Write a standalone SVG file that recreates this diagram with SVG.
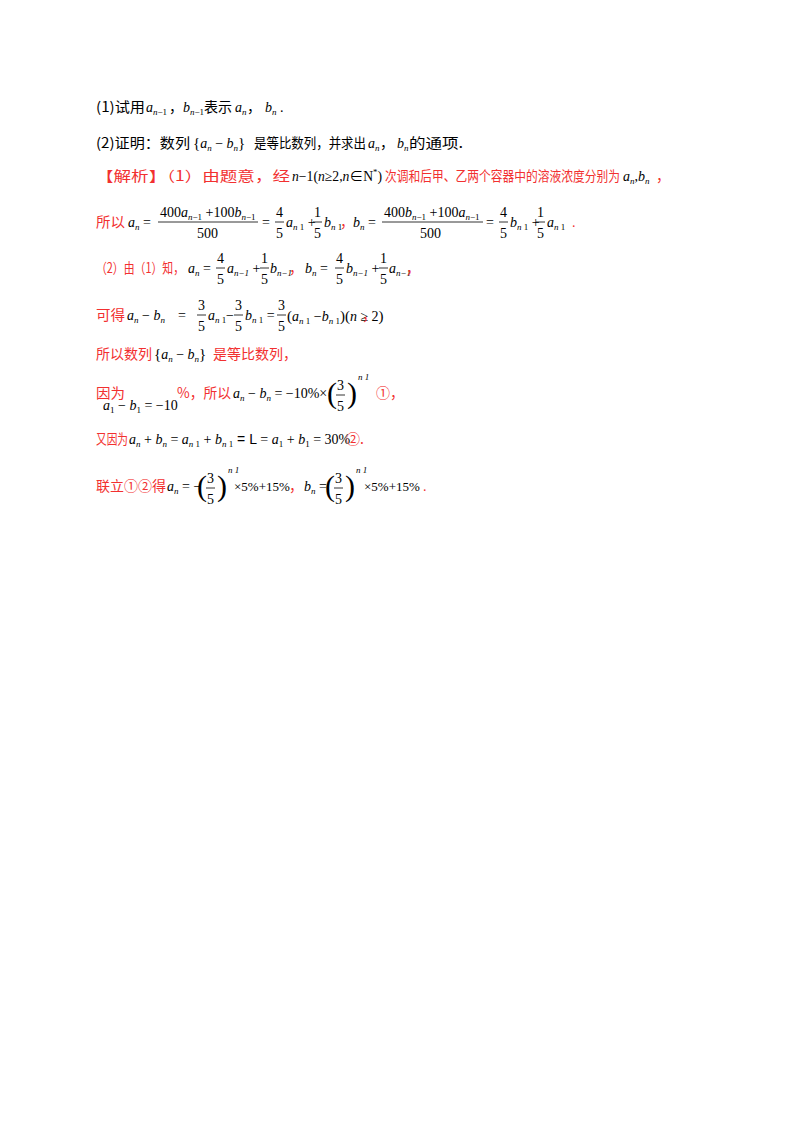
<svg xmlns="http://www.w3.org/2000/svg" width="800" height="1132" viewBox="0 0 800 1132">
<style>
text{font-family:"Liberation Serif","Noto Sans CJK SC",serif;font-size:14px;fill:#000}
.c{font-family:"Noto Sans CJK SC",sans-serif;font-size:14px}
.r{fill:#f23030}
.m{font-style:italic}
.s{font-size:9px;font-style:normal}
.si{font-size:9px;font-style:italic}
.f{font-size:15px;font-style:normal}
.p{font-size:30px;font-style:normal;font-weight:lighter}
line{stroke:#000;stroke-width:0.8}
</style>
<rect width="800" height="1132" fill="#fff"/>
<g id="q1">
<text x="96" y="112" class="c" textLength="49" lengthAdjust="spacingAndGlyphs">(1)试用</text>
<text x="146" y="112"><tspan class="m">a</tspan><tspan class="si" dy="3">n</tspan><tspan class="s">−1</tspan></text>
<text x="169" y="112" class="c">，</text>
<text x="183" y="112"><tspan class="m">b</tspan><tspan class="si" dy="3">n</tspan><tspan class="s">−1</tspan></text>
<text x="204" y="112" class="c" textLength="28" lengthAdjust="spacingAndGlyphs">表示</text>
<text x="235" y="112"><tspan class="m">a</tspan><tspan class="si" dy="3">n</tspan></text>
<text x="247" y="112" class="c">，</text>
<text x="265" y="112"><tspan class="m">b</tspan><tspan class="si" dy="3">n</tspan><tspan dy="-3"> .</tspan></text>
</g>
<g id="q2">
<text x="96" y="148" class="c" textLength="94" lengthAdjust="spacingAndGlyphs">(2)证明：数列</text>
<text x="193" y="148"><tspan class="f">{</tspan><tspan class="m">a</tspan><tspan class="si" dy="3">n</tspan><tspan dy="-3"> − </tspan><tspan class="m">b</tspan><tspan class="si" dy="3">n</tspan><tspan dy="-3" class="f">}</tspan></text>
<text x="254" y="148" class="c" textLength="112" lengthAdjust="spacingAndGlyphs">是等比数列，并求出</text>
<text x="368" y="148"><tspan class="m">a</tspan><tspan class="si" dy="3">n</tspan></text>
<text x="380" y="148" class="c">，</text>
<text x="397" y="148"><tspan class="m">b</tspan><tspan class="si" dy="3">n</tspan></text>
<text x="409" y="148" class="c" textLength="54" lengthAdjust="spacingAndGlyphs">的通项.</text>
</g>
<g id="a1">
<text x="96" y="181" class="c r" textLength="194" lengthAdjust="spacingAndGlyphs">【解析】（1）由题意，经</text>
<text x="292" y="181" textLength="90" lengthAdjust="spacingAndGlyphs"><tspan class="m">n</tspan>−1(<tspan class="m">n</tspan>≥2,<tspan class="m">n</tspan>∈N<tspan class="s" dy="-6">*</tspan><tspan dy="6">)</tspan></text>
<text x="385" y="181" class="c r" textLength="235" lengthAdjust="spacingAndGlyphs">次调和后甲、乙两个容器中的溶液浓度分别为</text>
<text x="623" y="181"><tspan class="m">a</tspan><tspan class="si" dy="3">n</tspan><tspan dy="-3">,</tspan><tspan class="m">b</tspan><tspan class="si" dy="3">n</tspan></text>
<text x="656" y="181" class="c r">，</text>
</g>
<g id="a2">
<text x="96" y="227" class="c r" textLength="29" lengthAdjust="spacingAndGlyphs">所以</text>
<text x="128" y="227"><tspan class="m">a</tspan><tspan class="si" dy="3">n</tspan><tspan dy="-3"> =</tspan></text>
<text x="160" y="217">400<tspan class="m">a</tspan><tspan class="si" dy="3">n</tspan><tspan class="s">−1</tspan><tspan dy="-3"> +100</tspan><tspan class="m">b</tspan><tspan class="si" dy="3">n</tspan><tspan class="s">−1</tspan></text>
<line x1="158" y1="222" x2="258" y2="222"/>
<text x="197" y="238">500</text>
<text x="262" y="227">=</text>
<text x="276" y="217">4</text><line x1="275" y1="222" x2="284" y2="222"/><text x="276" y="238">5</text>
<text x="286" y="227"><tspan class="m">a</tspan><tspan class="si" dy="3">n</tspan><tspan class="s"> 1</tspan><tspan dy="-3"> +</tspan></text>
<text x="314" y="217">1</text><line x1="313" y1="222" x2="322" y2="222"/><text x="314" y="238">5</text>
<text x="324" y="227"><tspan class="m">b</tspan><tspan class="si" dy="3">n</tspan><tspan class="s"> 1</tspan></text>
<text x="340" y="227" class="c r">，</text>
<text x="353" y="227"><tspan class="m">b</tspan><tspan class="si" dy="3">n</tspan><tspan dy="-3"> =</tspan></text>
<text x="384" y="217">400<tspan class="m">b</tspan><tspan class="si" dy="3">n</tspan><tspan class="s">−1</tspan><tspan dy="-3"> +100</tspan><tspan class="m">a</tspan><tspan class="si" dy="3">n</tspan><tspan class="s">−1</tspan></text>
<line x1="382" y1="222" x2="483" y2="222"/>
<text x="420" y="238">500</text>
<text x="486" y="227">=</text>
<text x="500" y="217">4</text><line x1="499" y1="222" x2="508" y2="222"/><text x="500" y="238">5</text>
<text x="510" y="227"><tspan class="m">b</tspan><tspan class="si" dy="3">n</tspan><tspan class="s"> 1</tspan><tspan dy="-3"> +</tspan></text>
<text x="537" y="217">1</text><line x1="536" y1="222" x2="545" y2="222"/><text x="537" y="238">5</text>
<text x="547" y="227"><tspan class="m">a</tspan><tspan class="si" dy="3">n</tspan><tspan class="s"> 1</tspan></text>
<text x="572" y="227" class="r">.</text>
</g>
<g id="a3">
<text x="96" y="273" class="c r" textLength="88" lengthAdjust="spacingAndGlyphs">（2）由（1）知，</text>
<text x="188" y="273"><tspan class="m">a</tspan><tspan class="si" dy="3">n</tspan><tspan dy="-3"> =</tspan></text>
<text x="217" y="263">4</text><line x1="216" y1="268" x2="225" y2="268"/><text x="217" y="284">5</text>
<text x="227" y="273"><tspan class="m">a</tspan><tspan class="si" dy="3">n−1</tspan><tspan dy="-3"> +</tspan></text>
<text x="261" y="263">1</text><line x1="260" y1="268" x2="269" y2="268"/><text x="261" y="284">5</text>
<text x="270" y="273"><tspan class="m">b</tspan><tspan class="si" dy="3">n−1</tspan></text>
<text x="289" y="273" class="c r">，</text>
<text x="305" y="273"><tspan class="m">b</tspan><tspan class="si" dy="3">n</tspan><tspan dy="-3"> =</tspan></text>
<text x="336" y="263">4</text><line x1="335" y1="268" x2="344" y2="268"/><text x="336" y="284">5</text>
<text x="346" y="273"><tspan class="m">b</tspan><tspan class="si" dy="3">n−1</tspan><tspan dy="-3"> +</tspan></text>
<text x="380" y="263">1</text><line x1="379" y1="268" x2="388" y2="268"/><text x="380" y="284">5</text>
<text x="389" y="273"><tspan class="m">a</tspan><tspan class="si" dy="3">n−1</tspan></text>
<text x="406" y="273" class="c r">，</text>
</g>
<g id="a4">
<text x="96" y="320" class="c r" textLength="29" lengthAdjust="spacingAndGlyphs">可得</text>
<text x="127" y="320"><tspan class="m">a</tspan><tspan class="si" dy="3">n</tspan><tspan dy="-3"> − </tspan><tspan class="m">b</tspan><tspan class="si" dy="3">n</tspan></text>
<text x="178" y="320">=</text>
<text x="198" y="310">3</text><line x1="197" y1="315" x2="206" y2="315"/><text x="198" y="331">5</text>
<text x="208" y="320"><tspan class="m">a</tspan><tspan class="si" dy="3">n</tspan><tspan class="s"> 1</tspan></text>
<text x="226" y="320">−</text>
<text x="235" y="310">3</text><line x1="234" y1="315" x2="243" y2="315"/><text x="235" y="331">5</text>
<text x="245" y="320"><tspan class="m">b</tspan><tspan class="si" dy="3">n</tspan><tspan class="s"> 1</tspan><tspan dy="-3"> =</tspan></text>
<text x="278" y="310">3</text><line x1="277" y1="315" x2="286" y2="315"/><text x="278" y="331">5</text>
<text x="287" y="321"><tspan class="f">(</tspan><tspan class="m">a</tspan><tspan class="si" dy="3">n</tspan><tspan class="s"> 1</tspan><tspan dy="-3"> −</tspan><tspan class="m">b</tspan><tspan class="si" dy="3">n</tspan><tspan class="s"> 1</tspan><tspan dy="-3" class="f">)(</tspan><tspan class="m">n</tspan> ≥ 2<tspan class="f">)</tspan></text>
<text x="362" y="320" class="c r">，</text>
</g>
<g id="a5">
<text x="96" y="359" class="c r" textLength="56" lengthAdjust="spacingAndGlyphs">所以数列</text>
<text x="154" y="359"><tspan class="f">{</tspan><tspan class="m">a</tspan><tspan class="si" dy="3">n</tspan><tspan dy="-3"> − </tspan><tspan class="m">b</tspan><tspan class="si" dy="3">n</tspan><tspan dy="-3" class="f">}</tspan></text>
<text x="213" y="359" class="c r" textLength="84" lengthAdjust="spacingAndGlyphs">是等比数列，</text>
</g>
<g id="a6">
<text x="96" y="398" class="c r" textLength="29" lengthAdjust="spacingAndGlyphs">因为</text>
<text x="103" y="410"><tspan class="m">a</tspan><tspan class="s" dy="3">1</tspan><tspan dy="-3"> − </tspan><tspan class="m">b</tspan><tspan class="s" dy="3">1</tspan><tspan dy="-3"> = −10</tspan></text>
<text x="177" y="398" class="c r" textLength="54" lengthAdjust="spacingAndGlyphs">%，所以</text>
<text x="233" y="398"><tspan class="m">a</tspan><tspan class="si" dy="3">n</tspan><tspan dy="-3"> − </tspan><tspan class="m">b</tspan><tspan class="si" dy="3">n</tspan><tspan dy="-3"> = −10%×</tspan></text>
<text x="327" y="403" class="p">(</text>
<text x="337" y="390">3</text><line x1="336" y1="395" x2="345" y2="395"/><text x="337" y="411">5</text>
<text x="347" y="403" class="p">)</text>
<text x="358" y="380" class="si">n  1</text>
<text x="376" y="398" class="c r">①，</text>
</g>
<g id="a7">
<text x="96" y="444" class="c r" textLength="32" lengthAdjust="spacingAndGlyphs">又因为</text>
<text x="129" y="444"><tspan class="m">a</tspan><tspan class="si" dy="3">n</tspan><tspan dy="-3"> + </tspan><tspan class="m">b</tspan><tspan class="si" dy="3">n</tspan><tspan dy="-3"> = </tspan><tspan class="m">a</tspan><tspan class="si" dy="3">n</tspan><tspan class="s"> 1</tspan><tspan dy="-3"> + </tspan><tspan class="m">b</tspan><tspan class="si" dy="3">n</tspan><tspan class="s"> 1</tspan><tspan dy="-3" style="font-family:'Liberation Sans',sans-serif"> = L </tspan><tspan> = </tspan><tspan class="m">a</tspan><tspan class="s" dy="3">1</tspan><tspan dy="-3"> + </tspan><tspan class="m">b</tspan><tspan class="s" dy="3">1</tspan><tspan dy="-3"> = 30%</tspan></text>
<text x="346" y="444" class="c r">②.</text>
</g>
<g id="a8">
<text x="96" y="491" class="c r" textLength="70" lengthAdjust="spacingAndGlyphs">联立①②得</text>
<text x="167" y="491"><tspan class="m">a</tspan><tspan class="si" dy="3">n</tspan><tspan dy="-3"> = −</tspan></text>
<text x="197" y="496" class="p">(</text>
<text x="207" y="483">3</text><line x1="206" y1="488" x2="215" y2="488"/><text x="207" y="504">5</text>
<text x="217" y="496" class="p">)</text>
<text x="228" y="473" class="si">n  1</text>
<text x="234" y="491" style="font-size:13px">×5%+15%</text>
<text x="289" y="491" class="c r">，</text>
<text x="304" y="491"><tspan class="m">b</tspan><tspan class="si" dy="3">n</tspan><tspan dy="-3"> =</tspan></text>
<text x="325" y="496" class="p">(</text>
<text x="335" y="483">3</text><line x1="334" y1="488" x2="343" y2="488"/><text x="335" y="504">5</text>
<text x="345" y="496" class="p">)</text>
<text x="356" y="473" class="si">n  1</text>
<text x="364" y="491" style="font-size:13px">×5%+15%</text>
<text x="423" y="491" class="r">.</text>
</g>
</svg>
